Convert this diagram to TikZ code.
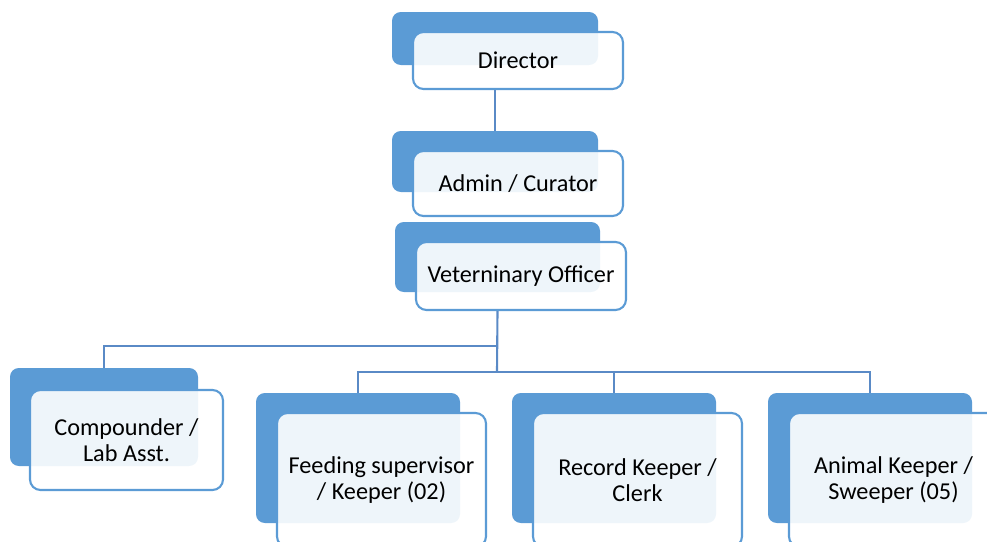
\documentclass[tikz,border=0pt]{standalone}
\usepackage{fontspec}
\setmainfont{Carlito}
\usepackage{tikz}
\usetikzlibrary{positioning, backgrounds}
\tikzset{>=stealth}
\definecolor{boxblue}{HTML}{5B9BD5}
\definecolor{lineblue}{HTML}{5A8AC6}

\begin{document}
\begin{tikzpicture}[x=0.02cm, y=-0.02cm,
    back/.style={fill=boxblue, rounded corners=5pt, inner sep=0pt},
    front/.style={draw=boxblue, line width=1.2pt, fill=white, fill opacity=.9, text opacity=1,
        rounded corners=6pt, align=center, inner sep=0pt, font=\fontsize{13.8}{15}\selectfont},
    link/.style={draw=lineblue, line width=1.2pt}]
    \useasboundingbox (0,0) rectangle (987,541);

    % name / back box (x, y, w, h) / front box (x, y, w, h) / text
    \foreach \n/\bx/\by/\bw/\bh/\fx/\fy/\fw/\fh/\t in {
        dir/495/38.5/206/53/518/60.5/210/57/{Director},
        adm/495/161.5/206/61/518/183.5/210/65/{Admin / Curator},
        vet/497.5/257/205/70/521/276/210/68/{Veterninary Officer},
        comp/104/417/188/98/126.5/440/193/100/{Compounder /\\ Lab Asst.},
        feed/358/458/204/130/381.5/480/209/134/{Feeding supervisor\\ / Keeper (02)},
        rec/614/458/204/130/637.5/480/209/134/{Record Keeper /\\ Clerk},
        anim/870/458/204/130/893.5/480/209/134/{Animal Keeper /\\ Sweeper (05)}}
    {
        \node[back, minimum width=\bw*0.02cm, minimum height=\bh*0.02cm] (\n b) at (\bx,\by) {};
        \node[front, minimum width=\fw*0.02cm, minimum height=\fh*0.02cm] (\n) at (\fx,\fy) {\t};
    }

    \coordinate (bus1) at (497,346);
    \coordinate (bus2) at (497,372);

    \draw[link] (dirb.center |- dir.south) -- (admb.north);
    \draw[link] (vetb.center |- vet.south) -- (bus2);
    \draw[link] (bus1) -| (compb.north);
    \foreach \n in {feed, rec, anim}
    {
        \draw[link] (bus2) -| (\n b.north);
    }
\end{tikzpicture}
\end{document}
